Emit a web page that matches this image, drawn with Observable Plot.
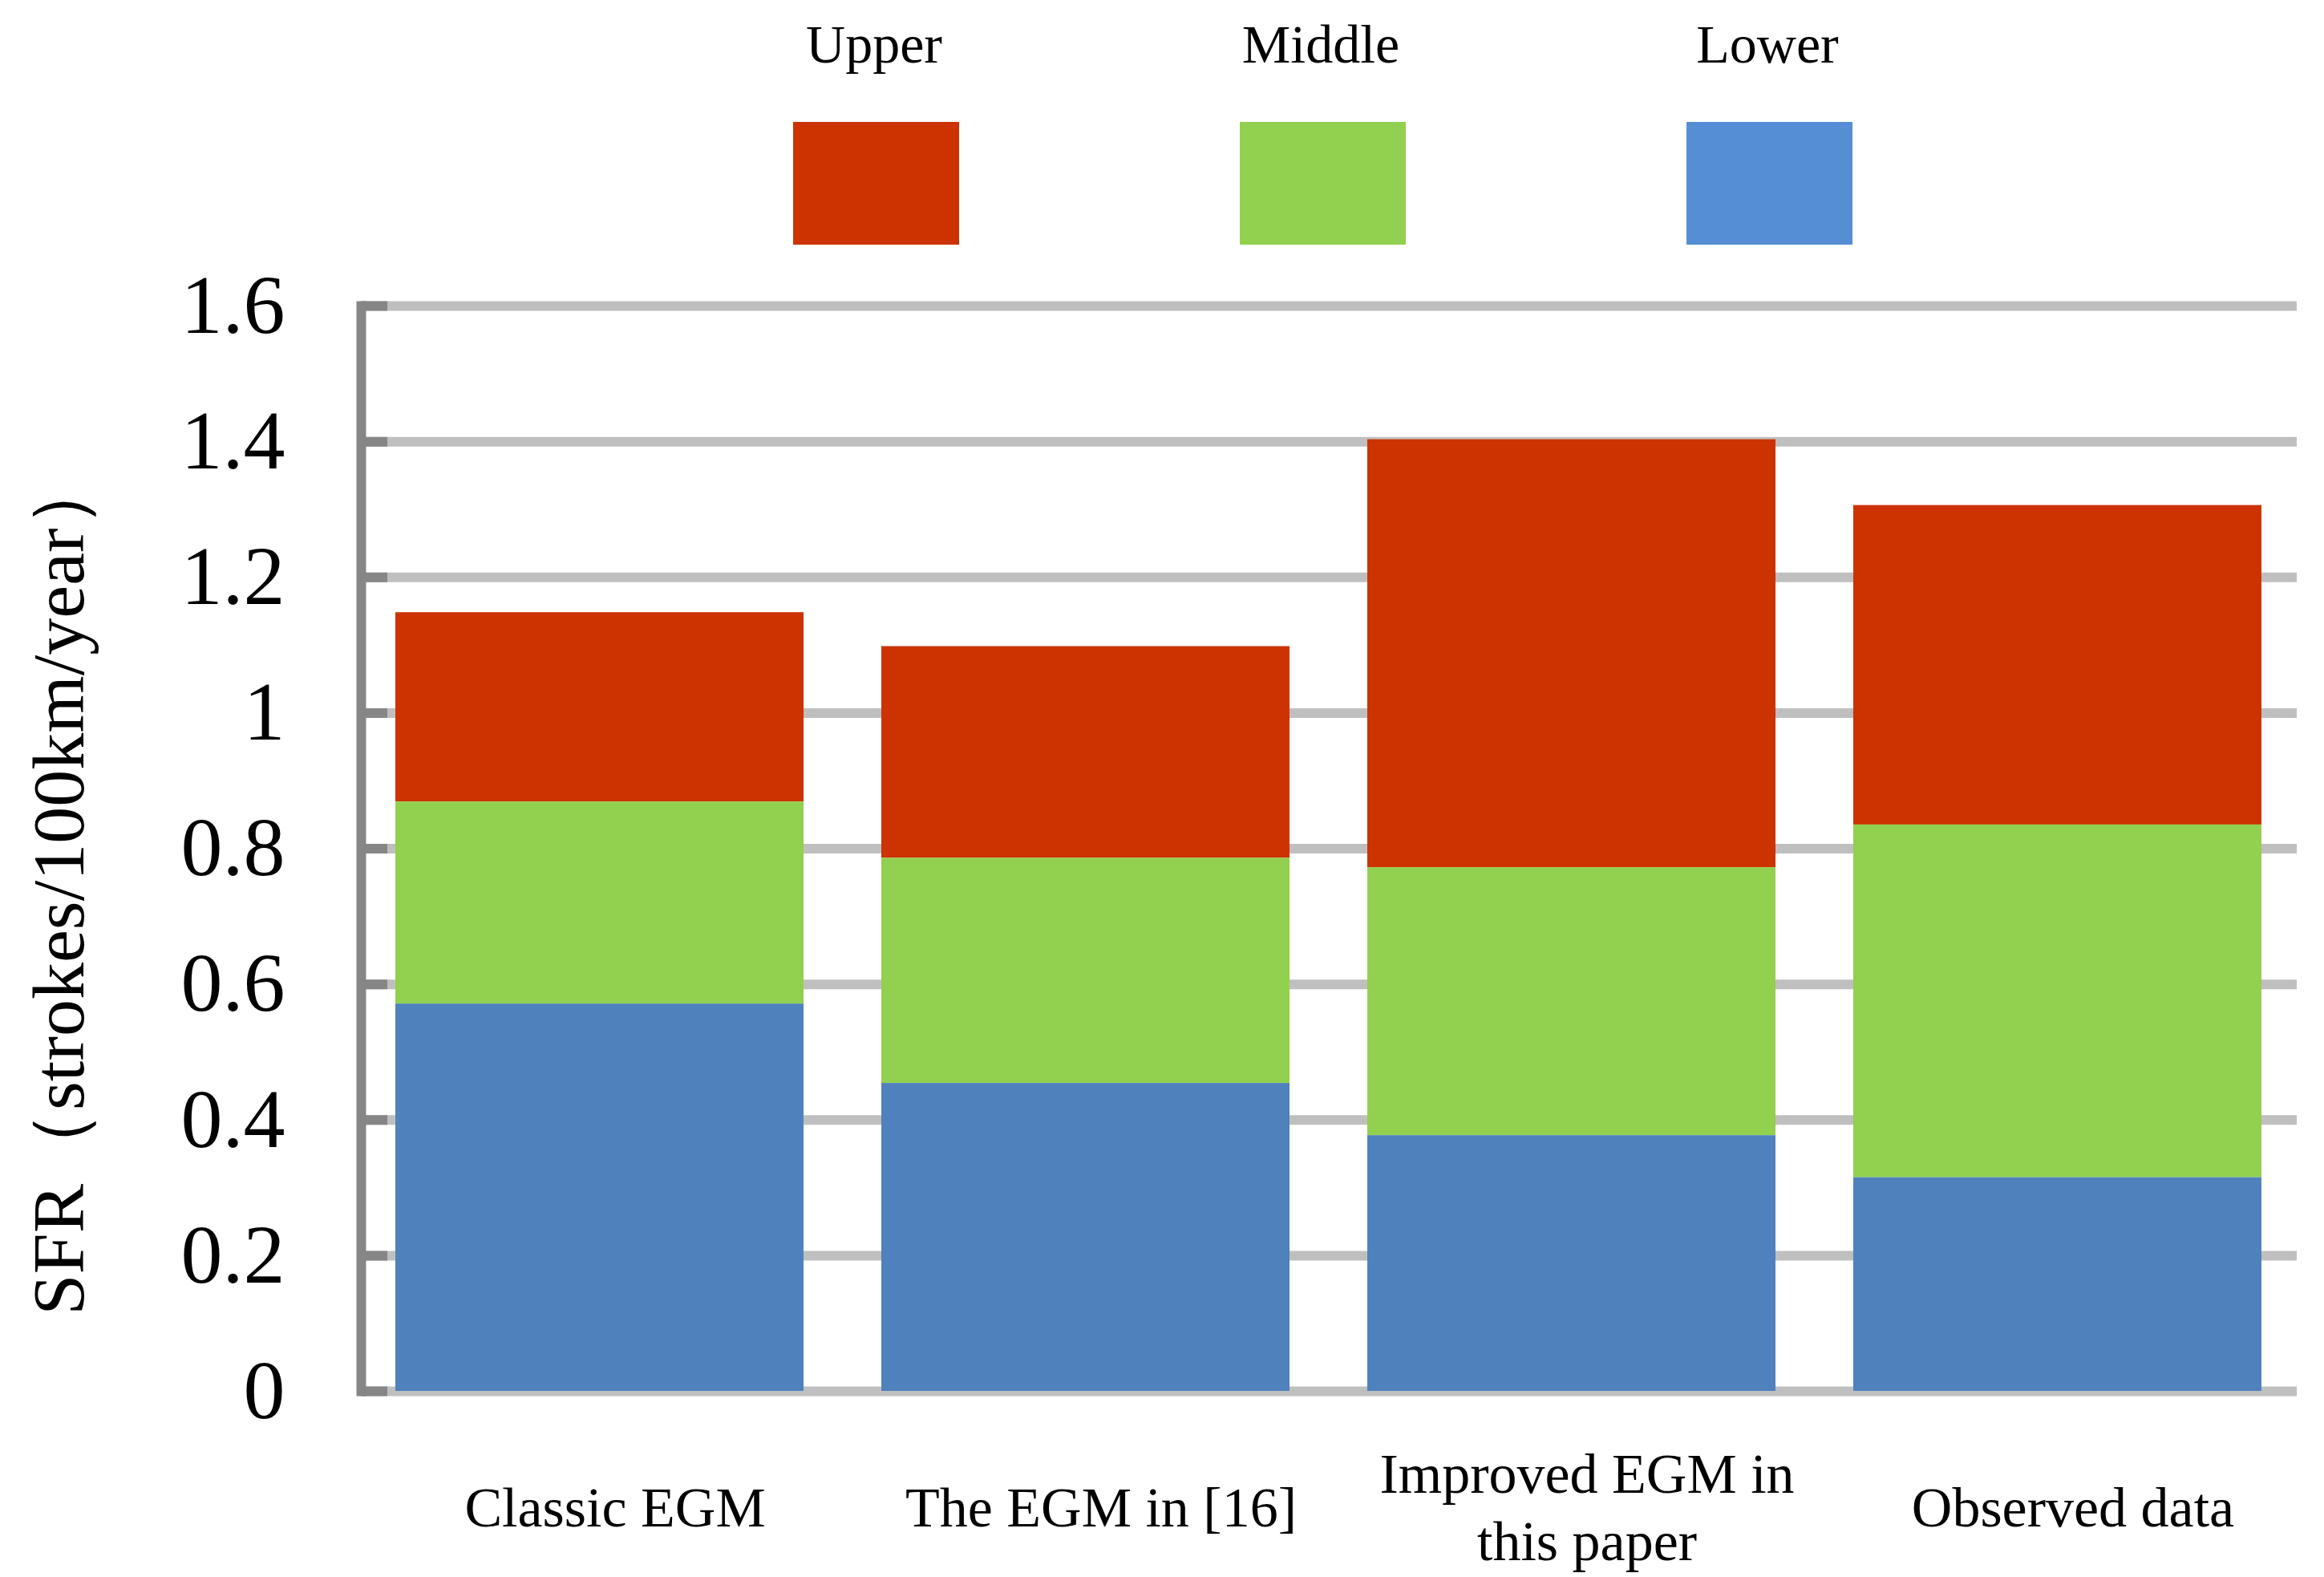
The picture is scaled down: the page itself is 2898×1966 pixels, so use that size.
<!DOCTYPE html>
<html>
<head>
<meta charset="utf-8">
<script src="https://cdn.jsdelivr.net/npm/d3@7"></script>
<script src="https://cdn.jsdelivr.net/npm/@observablehq/plot@0.6"></script>
<style>
  html, body { margin: 0; padding: 0; background: #fff; }
  #wrap { width: 2898px; height: 1966px; position: relative; background: #fff; font-family: "Liberation Serif", "Times New Roman", serif; }
  #legend { position: relative; width: 2898px; height: 330px; }
  .lg-label { position: absolute; width: 300px; text-align: center; font-size: 68px; line-height: 80px; color: #000; }
  .lg-swatch { position: absolute; }
  #chart svg { display: block; }
</style>
</head>
<body>
<div id="wrap">
  <div id="legend"></div>
  <div id="chart"></div>
</div>
<script>
// ---- data ----
const categories = ["Classic EGM", "The EGM in [16]", "Improved EGM in\nthis paper", "Observed data"];
const series = ["Upper", "Middle", "Lower"];
const lowerValues  = [0.571, 0.454, 0.377, 0.315];
const middleValues = [0.298, 0.332, 0.395, 0.520];
const upperValues  = [0.279, 0.312, 0.631, 0.471];
const yTicks = [0, 0.2, 0.4, 0.6, 0.8, 1.0, 1.2, 1.4, 1.6];
const yLabel = "SFR（strokes/100km/year）";

// ---- styles ----
const barColors = {Upper: "#CC3300", Middle: "#92D050", Lower: "#4F81BD"};
const legendColors = {Upper: "#CC3300", Middle: "#92D050", Lower: "#558ED5"};

// ---- table ----
const valuesBySeries = {Upper: upperValues, Middle: middleValues, Lower: lowerValues};
const table = [];
categories.forEach((c, i) => {
  series.forEach(s => table.push({category: c, series: s, value: valuesBySeries[s][i]}));
});

// ---- legend ----
const legend = document.getElementById("legend");
series.forEach((s, i) => {
  const cx = 1090 + i * 557;
  const lab = document.createElement("div");
  lab.className = "lg-label";
  lab.textContent = s;
  lab.style.left = (cx - 150) + "px";
  lab.style.top = "15px";
  legend.appendChild(lab);
  const sw = document.createElement("div");
  sw.className = "lg-swatch";
  sw.style.left = (cx - 101) + "px";
  sw.style.top = "152px";
  sw.style.width = "207px";
  sw.style.height = "153px";
  sw.style.background = legendColors[s];
  legend.appendChild(sw);
});

// ---- chart ----
const fmt = d => String(+d.toFixed(1));
const chart = Plot.plot({
  width: 2898,
  height: 1636,
  marginTop: 51,
  marginBottom: 232,
  marginLeft: 450,
  marginRight: 34,
  style: {fontFamily: "'Liberation Serif', 'Times New Roman', serif", background: "#fff", color: "#000", overflow: "visible"},
  x: {domain: categories, paddingInner: 0.16, paddingOuter: 0.07, axis: null},
  y: {domain: [0, 1.6], axis: null},
  color: {domain: series, range: series.map(s => barColors[s])},
  marks: [
    Plot.gridY(yTicks, {stroke: "#BFBFBF", strokeOpacity: 1, strokeWidth: 12}),
    Plot.barY(table, {x: "category", y: "value", fill: "series", order: ["Lower", "Middle", "Upper"]}),
    Plot.frame({anchor: "left", stroke: "#868686", strokeWidth: 12, strokeLinecap: "square"}),
    Plot.axisY({ticks: yTicks, tickSize: -33, tickFormat: () => "", stroke: "#868686", strokeOpacity: 1, strokeWidth: 12, label: null}),
    Plot.axisY({ticks: yTicks, tickSize: 0, tickPadding: 95, tickFormat: fmt, fontSize: 104, label: null, fill: "#000"}),
    Plot.text(categories, {x: d => d, frameAnchor: "bottom", dx: 19, dy: 142, lineAnchor: "middle", fontSize: 70, lineHeight: 1.2, fill: "#000"}),
    Plot.text([yLabel], {frameAnchor: "left", textAnchor: "middle", rotate: -90, dx: -376, dy: 45, fontSize: 92, fill: "#000"})
  ]
});
document.getElementById("chart").appendChild(chart);
</script>
</body>
</html>
